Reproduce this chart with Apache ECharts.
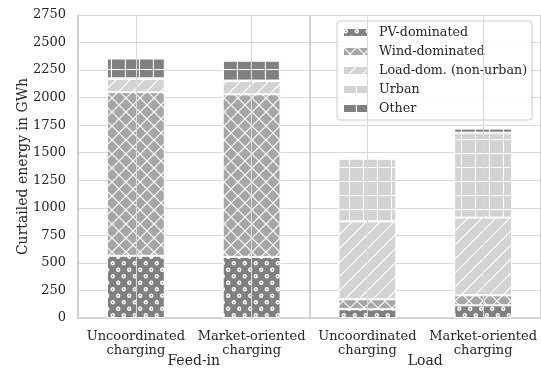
<!DOCTYPE html>
<html>
<head>
<meta charset="utf-8">
<script src="https://cdn.jsdelivr.net/npm/echarts@6/dist/echarts.min.js"></script>
<style>html,body{margin:0;padding:0;background:#fff}#c{width:541px;height:374px}</style>
</head>
<body>
<div id="c"></div>
<script>
var categories = ['Uncoordinated\ncharging', 'Market-oriented\ncharging', 'Uncoordinated\ncharging', 'Market-oriented\ncharging'];
var groups = ['Feed-in', 'Load'];
var seriesNames = ['PV-dominated', 'Wind-dominated', 'Load-dom. (non-urban)', 'Urban', 'Other'];
var pv = [565, 555, 80, 115];
var wind = [1485, 1475, 90, 91];
var loadDom = [120, 120, 707, 705];
var urban = [5, 5, 569, 771];
var other = [180, 180, 0, 37];
var yTicks = [0, 250, 500, 750, 1000, 1250, 1500, 1750, 2000, 2250, 2500, 2750];

function makePattern(bg, w, h, draw) {
  var c = document.createElement('canvas');
  c.width = w; c.height = h;
  var ctx = c.getContext('2d');
  ctx.fillStyle = bg; ctx.fillRect(0, 0, w, h);
  ctx.strokeStyle = '#ffffff'; ctx.fillStyle = '#ffffff';
  draw(ctx, w, h);
  return { image: c, repeat: 'repeat' };
}
var pvPat = makePattern('#808080', 11, 13, function (ctx) {
  ctx.lineWidth = 1.4;
  [[2.75, 3.25], [8.25, 9.75]].forEach(function (p) {
    ctx.beginPath(); ctx.arc(p[0], p[1], 1.5, 0, Math.PI * 2); ctx.stroke();
  });
});
var windPat = makePattern('#a6a6a6', 14, 14, function (ctx, w, h) {
  ctx.lineWidth = 1.2;
  ctx.beginPath();
  ctx.moveTo(-2, -2); ctx.lineTo(w + 2, h + 2);
  ctx.moveTo(w + 2, -2); ctx.lineTo(-2, h + 2);
  ctx.stroke();
});
var loadPat = makePattern('#d3d3d3', 14, 14, function (ctx, w, h) {
  ctx.lineWidth = 1.2;
  ctx.beginPath();
  ctx.moveTo(-2, h + 2); ctx.lineTo(w + 2, -2);
  ctx.moveTo(-2 - w, h + 2); ctx.lineTo(2, -2);
  ctx.moveTo(w - 2, h + 2); ctx.lineTo(2 * w + 2, -2);
  ctx.stroke();
});
function gridDraw(ctx, w, h) {
  ctx.lineWidth = 1.2;
  ctx.beginPath();
  ctx.moveTo(0, h - 0.5); ctx.lineTo(w, h - 0.5);
  ctx.moveTo(w - 0.5, 0); ctx.lineTo(w - 0.5, h);
  ctx.stroke();
}
var urbanPat = makePattern('#d3d3d3', 14, 14, gridDraw);
var otherPat = makePattern('#808080', 14, 14, gridDraw);
var patterns = [pvPat, windPat, loadPat, urbanPat, otherPat];
var values = [pv, wind, loadDom, urban, other];

var font = 'DejaVu Serif';
var txt = '#262626';
var series = values.map(function (v, i) {
  return {
    name: seriesNames[i], type: 'bar', stack: 'total', barWidth: '50%', z: 3,
    data: v,
    itemStyle: { color: patterns[i], borderColor: '#ffffff', borderWidth: 1 }
  };
});
series.push({
  type: 'line', data: [], z: 1, silent: true,
  markLine: {
    silent: true, symbol: 'none', label: { show: false },
    lineStyle: { color: '#d9d9d9', width: 1, type: 'solid' },
    data: categories.map(function (c, i) { return { xAxis: i }; })
  }
});

var chart = echarts.init(document.getElementById('c'), null, { renderer: 'canvas' });
chart.setOption({
  animation: false,
  textStyle: { fontFamily: font, color: txt },
  grid: { left: 78, top: 15, width: 465, height: 303 },
  legend: {
    orient: 'vertical', left: 337, top: 21,
    data: seriesNames,
    itemWidth: 25, itemHeight: 9, itemGap: 4,
    padding: [4, 5, 4, 5],
    backgroundColor: 'rgba(255,255,255,0.8)', borderColor: '#cccccc', borderWidth: 1, borderRadius: 3,
    textStyle: { fontFamily: font, fontSize: 12.7, color: txt, lineHeight: 15, padding: [0, 0, 0, 6] },
    icon: 'rect'
  },
  xAxis: [{
    type: 'category', data: categories,
    axisLine: { lineStyle: { color: '#cccccc', width: 1.5 } },
    axisTick: { show: false },
    axisLabel: { fontFamily: font, fontSize: 13, color: txt, margin: 11, lineHeight: 14.5, interval: 0 },
    splitLine: { show: false }
  }, {
    type: 'category', data: groups, position: 'bottom',
    axisLine: { show: false }, axisTick: { show: false },
    axisLabel: { fontFamily: font, fontSize: 14, color: txt, margin: 36 },
    splitLine: { show: true, lineStyle: { color: '#c4c4c4', width: 1.5 } }
  }],
  yAxis: {
    type: 'value', min: yTicks[0], max: yTicks[yTicks.length - 1], interval: 250,
    name: 'Curtailed energy in GWh', nameLocation: 'middle', nameGap: 48, nameMoveOverlap: false,
    nameTextStyle: { fontFamily: font, fontSize: 14, color: txt },
    axisLine: { show: true, lineStyle: { color: '#cccccc', width: 1.5 } },
    axisTick: { show: false },
    axisLabel: { fontFamily: font, fontSize: 13, color: txt, margin: 12, formatter: function (v) { return String(v); } },
    splitLine: { lineStyle: { color: '#d9d9d9', width: 1 } }
  },
  series: series
});
</script>
</body>
</html>
